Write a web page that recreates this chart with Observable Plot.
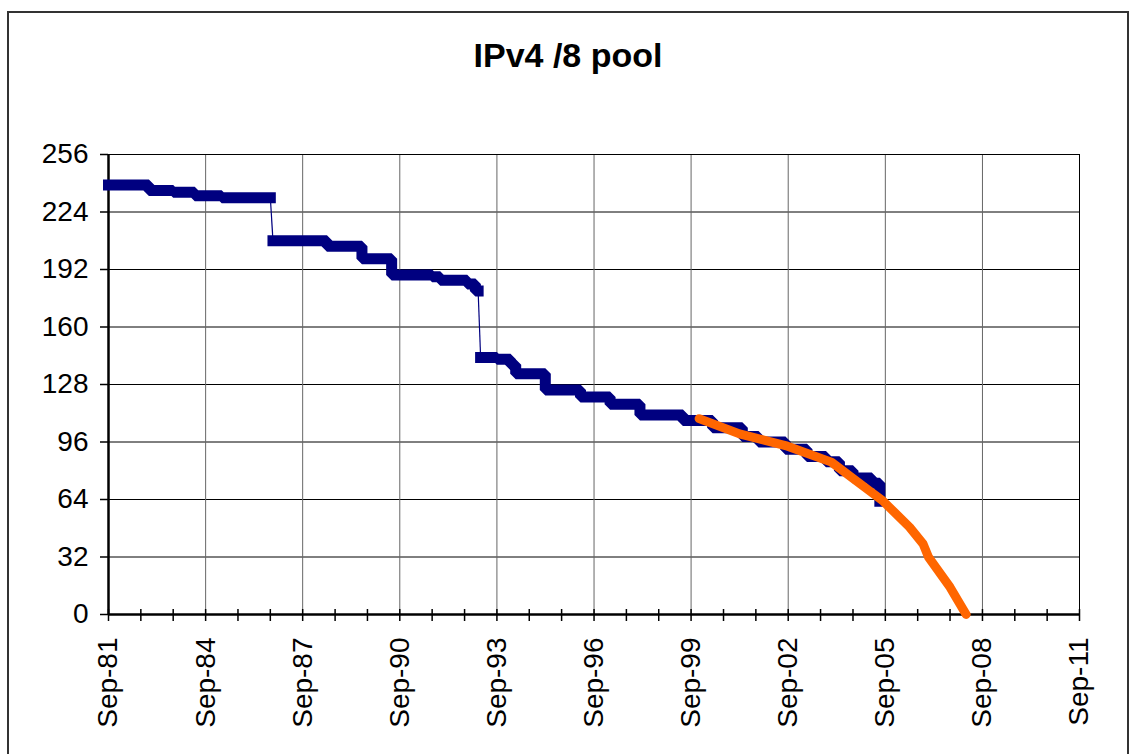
<!DOCTYPE html>
<html><head><meta charset="utf-8">
<script src="https://cdn.jsdelivr.net/npm/d3@7"></script>
<script src="https://cdn.jsdelivr.net/npm/@observablehq/plot@0.6"></script>
<style>
body{margin:0;background:#fff;font-family:Arial,"Liberation Sans",sans-serif;}
#chart{position:absolute;left:0;top:0;}
#border{position:absolute;left:7px;top:11px;width:1122px;height:800px;border:2px solid #333;box-sizing:border-box;pointer-events:none;}
</style></head><body>
<div id="chart"></div><div id="border"></div>
<script>
const title = "IPv4 /8 pool";

// Free /8 pool history, step data by segment
const blueDates = [
  "1981-09","1982-12","1983-09","1984-05","1985-03","1986-09",
  "1986-10","1988-06","1989-07","1990-06","1991-09","1991-12","1992-10","1993-01","1993-02",
  "1993-03","1993-09","1994-02","1994-04","1995-03","1996-04","1997-03","1998-02","1999-06",
  "2000-05","2001-04","2001-10","2002-08","2003-04","2003-11","2004-04","2004-09","2005-04","2005-07"
];
const blueValues = [
  239,236,235,233,232,232,
  208,205,198,189,188,186,184,180,180,
  143,142,139,134,125,121,117,111,108,
  104,99,96,92,88,85,80,76,73,63
];
const blueSegments = [
  1,1,1,1,1,1,
  2,2,2,2,2,2,2,2,2,
  3,3,3,3,3,3,3,3,3,
  3,3,3,3,3,3,3,3,3,3
];

// Projection
const trendDates = ["1999-12","2001-03","2002-08","2004-01","2005-03","2005-08","2006-06","2006-11","2007-01","2007-09","2008-03"];
const trendValues = [109,100.5,94,84.8,69,63.4,48.6,39.3,31.9,15.2,0];

const yTicks = [0,32,64,96,128,160,192,224,256];
const majorYears = [1981,1984,1987,1990,1993,1996,1999,2002,2005,2008,2011];
const minorYears = d3.range(1981, 2012);

const parse = d3.utcParse("%Y-%m");
const blue = blueDates.map((d,i)=>({date: parse(d), value: blueValues[i], seg: blueSegments[i]}));
const trend = trendDates.map((d,i)=>({date: parse(d), value: trendValues[i]}));
const majorDates = majorYears.map(y => new Date(Date.UTC(y, 8, 1)));
const minorDates = minorYears.map(y => new Date(Date.UTC(y, 8, 1)));

// thin connectors between segments (big drops)
const connectors = [];
for (let i = 1; i < blue.length; i++) {
  if (blue[i].seg !== blue[i-1].seg) connectors.push({a: blue[i-1], b: blue[i]});
}

const chart = Plot.plot({
  width: 1132, height: 754,
  marginLeft: 108, marginRight: 53, marginTop: 154, marginBottom: 140,
  style: {fontFamily: "Arial, 'Liberation Sans', sans-serif", fontSize: "28px", color: "#000", background: "transparent", overflow: "visible"},
  x: {type: "utc", domain: [majorDates[0], majorDates[majorDates.length-1]]},
  y: {domain: [0, 256]},
  marks: [
    Plot.ruleY(yTicks, {stroke: "#000", strokeWidth: 1}),
    Plot.ruleX(majorDates, {stroke: "#666", strokeWidth: 1}),
    Plot.frame({stroke: "#000", strokeWidth: 1}),
    Plot.ruleX(minorDates, {stroke: "#000", strokeWidth: 1.5, insetTop: 455}),
    Plot.axisY({ticks: yTicks, tickSize: 8, tickPadding: 12, label: null, tickFormat: d => String(d), strokeWidth: 1.5}),
    Plot.axisX({ticks: minorDates, tickSize: 7, tickFormat: () => "", label: null, strokeWidth: 1.5}),
    Plot.axisX({ticks: majorDates, tickSize: 0, tickPadding: 23, tickRotate: -90, tickFormat: d3.utcFormat("%b-%y"), label: null}),
    Plot.ruleX([majorDates[0]], {stroke: "#000", strokeWidth: 2.5}),
    Plot.ruleY([0], {stroke: "#000", strokeWidth: 2.5}),
    Plot.line(blue, {x: "date", y: "value", z: "seg", curve: "step-after", stroke: "#000080", strokeWidth: 11, strokeLinecap: "square", strokeLinejoin: "miter"}),
    Plot.link(connectors, {x1: d => d.a.date, y1: d => d.a.value, x2: d => d.b.date, y2: d => d.b.value, stroke: "#000080", strokeWidth: 1.2}),
    Plot.line(trend, {x: "date", y: "value", stroke: "#FF6600", strokeWidth: 9, strokeLinecap: "round", strokeLinejoin: "round"}),
    Plot.text([title], {frameAnchor: "top", dx: -26, dy: -112, fontSize: 34, fontWeight: "bold", fill: "#000"})
  ]
});
document.getElementById("chart").appendChild(chart);
</script>
</body></html>
